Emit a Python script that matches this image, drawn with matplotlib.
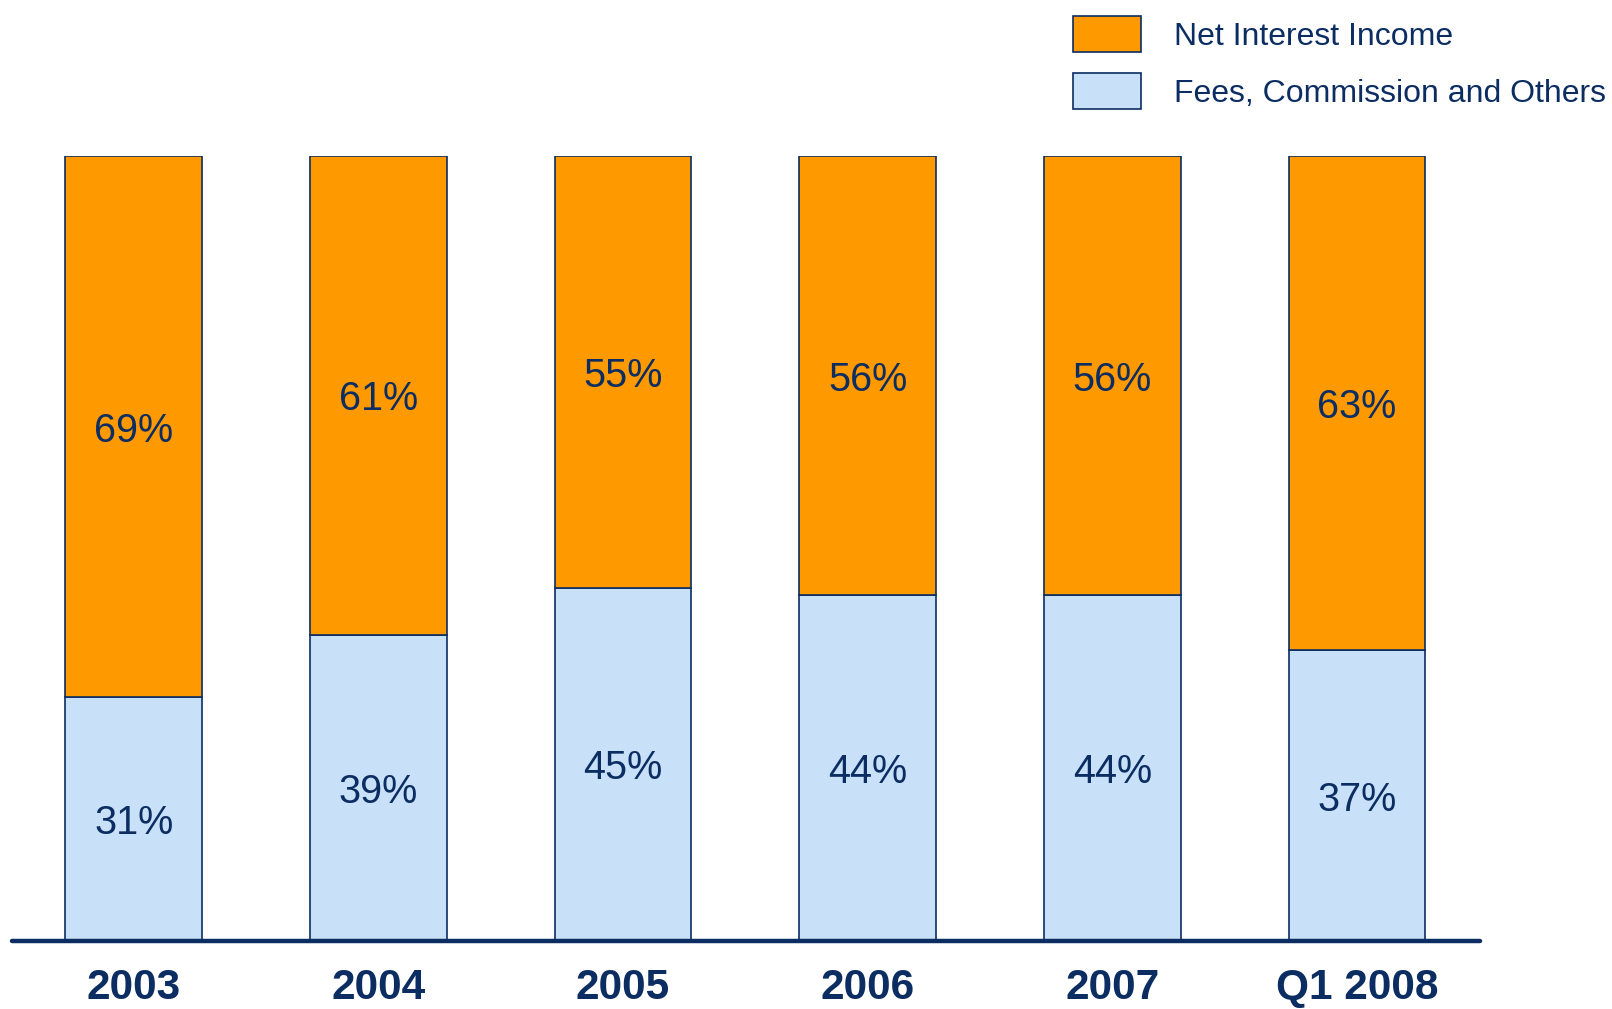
import numpy as np
import matplotlib.pyplot as plt

plt.rcParams['font.family'] = ['Liberation Sans', 'DejaVu Sans']

years = ["2003", "2004", "2005", "2006", "2007", "Q1 2008"]
fees = [31, 39, 45, 44, 44, 37]
net_interest = [69, 61, 55, 56, 56, 63]

navy = "#0b2d62"
orange = "#ff9900"
light_blue = "#c8e1f9"

fig = plt.figure(figsize=(16.12, 10.09), dpi=100)
ax = fig.add_axes([12 / 1612, 0.0677, 1468 / 1612, 0.7777])

x = np.arange(len(years))
width = 0.559
b1 = ax.bar(x, fees, width, color=light_blue, edgecolor=navy, linewidth=1.2,
            label="Fees, Commission and Others")
b2 = ax.bar(x, net_interest, width, bottom=fees, color=orange, edgecolor=navy,
            linewidth=1.2, label="Net Interest Income")

for i in range(len(years)):
    ax.text(x[i], fees[i] / 2, f"{fees[i]}%", ha="center", va="center_baseline",
            fontsize=28.5, color=navy)
    ax.text(x[i], fees[i] + net_interest[i] / 2, f"{net_interest[i]}%",
            ha="center", va="center_baseline", fontsize=28.5, color=navy)

ax.set_xlim(-0.497, 5.503)
ax.set_ylim(0, 100)
ax.set_xticks(x)
ax.set_xticklabels(years, fontsize=30.5, fontweight="bold", color=navy)
ax.tick_params(axis="x", length=0, pad=19.5)
ax.set_yticks([])
for s in ["top", "left", "right"]:
    ax.spines[s].set_visible(False)
ax.spines["bottom"].set_color(navy)
ax.spines["bottom"].set_linewidth(3.2)
ax.spines["bottom"].set_capstyle("round")

leg = ax.legend(handles=[b2, b1], loc="upper left",
                bbox_to_anchor=(1051 / 1612, 1.006), bbox_transform=fig.transFigure,
                frameon=False, fontsize=23, handlelength=2.13, handleheight=1.32,
                handletextpad=1.03, labelspacing=0.68, borderaxespad=0.3)
for t in leg.get_texts():
    t.set_color(navy)

fig.savefig("out.png", dpi=100)
